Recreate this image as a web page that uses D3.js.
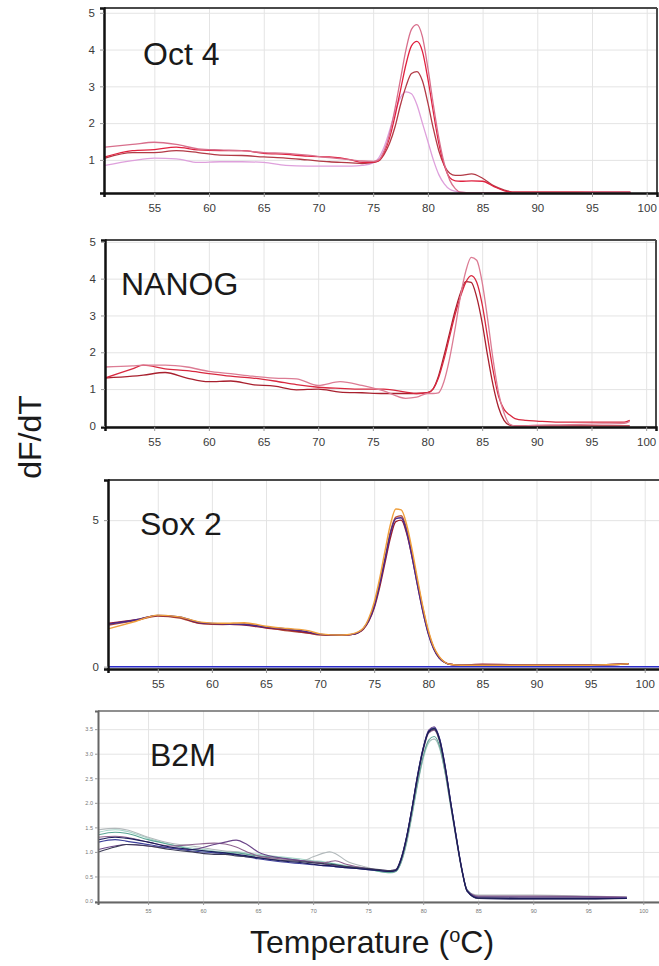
<!DOCTYPE html>
<html>
<head>
<meta charset="utf-8">
<script src="https://cdn.jsdelivr.net/npm/d3@7"></script>
<style>
  body { margin: 0; background: #fff; }
  svg { display: block; font-family: "Liberation Sans", Arial, sans-serif; }
</style>
</head>
<body>
<div id="chart"></div>
<script>
// Tick labels
var xTicks = [55, 60, 65, 70, 75, 80, 85, 90, 95, 100];
var yTicksOct4 = [1, 2, 3, 4, 5];
var yTicksNanog = [0, 1, 2, 3, 4, 5];
var yTicksSox2 = [0, 5];
var yTicksB2m = [0, 0.5, 1, 1.5, 2, 2.5, 3, 3.5];

// Oct 4 melt curves (dF/dT vs temperature)
var oct4Temps = [50.5, 53, 55, 57, 59, 61, 63, 65, 67, 69, 71, 73, 74, 75, 75.5, 76, 76.5, 77, 77.5, 78,
  78.5, 79, 79.5, 80, 80.5, 81, 81.5, 82, 82.5, 83, 84, 85, 86, 87, 88, 90, 93, 95, 98.5];
var oct4A = [1.35, 1.42, 1.48, 1.42, 1.3, 1.27, 1.25, 1.2, 1.18, 1.13, 1.06, 1.0, 0.97, 0.96, 1.0, 1.25, 1.7, 2.4, 3.2, 4.0,
  4.55, 4.68, 4.35, 3.5, 2.5, 1.6, 0.9, 0.45, 0.22, 0.12, 0.1, 0.1, 0.1, 0.1, 0.1, 0.1, 0.1, 0.12, 0.12];
var oct4B = [1.08, 1.25, 1.28, 1.35, 1.27, 1.25, 1.25, 1.18, 1.15, 1.1, 1.08, 1.0, 0.93, 0.94, 0.98, 1.2, 1.6, 2.2, 2.9, 3.6,
  4.1, 4.22, 3.95, 3.2, 2.3, 1.45, 0.85, 0.52, 0.43, 0.42, 0.43, 0.42, 0.28, 0.16, 0.12, 0.12, 0.12, 0.12, 0.12];
var oct4C = [1.05, 1.2, 1.2, 1.25, 1.2, 1.13, 1.12, 1.08, 1.05, 1.0, 0.95, 0.92, 0.9, 0.93, 0.97, 1.15, 1.45, 1.9, 2.5, 3.0,
  3.35, 3.4, 3.15, 2.55, 1.85, 1.25, 0.85, 0.64, 0.58, 0.58, 0.62, 0.5, 0.3, 0.18, 0.12, 0.12, 0.12, 0.12, 0.12];
var oct4D = [0.85, 0.98, 1.05, 1.03, 0.93, 0.95, 0.95, 0.93, 0.85, 0.83, 0.83, 0.83, 0.85, 0.92, 1.05, 1.35, 1.8, 2.3, 2.7, 2.85,
  2.8, 2.5, 2.0, 1.5, 1.0, 0.6, 0.35, 0.2, 0.15, 0.12, 0.1, 0.1, 0.1, 0.1, 0.1, 0.1, 0.1, 0.1, 0.1];

// NANOG
var nanogTemps = [50.5, 53, 54, 56, 58, 60, 62, 64, 66, 68, 70, 72, 74, 76, 78, 79, 80, 80.5, 81, 81.5,
  82, 82.5, 83, 83.5, 84, 84.5, 85, 85.5, 86, 86.5, 87, 87.5, 88, 89, 90, 92, 95, 98, 98.5];
var nanogA = [1.6, 1.63, 1.65, 1.65, 1.6, 1.48, 1.42, 1.35, 1.3, 1.28, 1.1, 1.2, 1.1, 0.95, 0.75, 0.78, 0.88, 0.88, 0.9, 1.2,
  1.8, 2.6, 3.5, 4.2, 4.58, 4.5, 3.9, 2.9, 1.8, 0.9, 0.35, 0.05, 0, 0, 0.02, 0.03, 0.05, 0.07, 0.12];
var nanogB = [1.3, 1.55, 1.65, 1.55, 1.5, 1.42, 1.35, 1.3, 1.22, 1.12, 1.05, 1.02, 1.0, 1.0, 0.92, 0.88, 0.9, 1.0, 1.3, 1.8,
  2.4, 3.0, 3.5, 3.9, 4.08, 3.9, 3.3, 2.4, 1.5, 0.8, 0.45, 0.3, 0.2, 0.15, 0.13, 0.1, 0.1, 0.1, 0.15];
var nanogC = [1.3, 1.35, 1.38, 1.45, 1.3, 1.2, 1.22, 1.12, 1.08, 0.98, 1.0, 0.92, 0.9, 0.88, 0.88, 0.88, 0.9, 1.0, 1.35, 1.9,
  2.5, 3.1, 3.6, 3.92, 3.9, 3.5, 2.8, 1.9, 1.1, 0.5, 0.15, 0.02, 0, 0, 0, 0, 0, 0, 0];

// Sox 2
var sox2Temps = [50.5, 53, 55, 57, 59, 61, 63, 65, 67, 69, 70, 72, 73, 74, 74.5, 75, 75.5, 76, 76.5, 77,
  77.5, 78, 78.5, 79, 79.5, 80, 80.5, 81, 81.5, 82, 83, 85, 90, 95, 98.5];
var sox2Orange = [1.3, 1.55, 1.76, 1.7, 1.52, 1.48, 1.5, 1.38, 1.3, 1.22, 1.12, 1.08, 1.12, 1.32, 1.65, 2.2, 3.0, 3.95, 4.85, 5.38,
  5.35, 4.85, 4.0, 3.0, 2.05, 1.25, 0.68, 0.35, 0.16, 0.08, 0.05, 0.05, 0.05, 0.05, 0.1];
var sox2Brown = [1.42, 1.58, 1.73, 1.66, 1.47, 1.44, 1.46, 1.34, 1.22, 1.14, 1.08, 1.07, 1.1, 1.3, 1.6, 2.1, 2.85, 3.7, 4.6, 5.1,
  5.15, 4.7, 3.85, 2.9, 2.0, 1.2, 0.65, 0.32, 0.16, 0.08, 0.05, 0.06, 0.05, 0.05, 0.1];
var sox2Purple = [1.45, 1.6, 1.75, 1.7, 1.5, 1.46, 1.44, 1.35, 1.28, 1.18, 1.1, 1.08, 1.1, 1.3, 1.58, 2.05, 2.8, 3.65, 4.55, 5.05,
  5.08, 4.6, 3.75, 2.78, 1.88, 1.12, 0.6, 0.3, 0.15, 0.08, 0.05, 0.05, 0.05, 0.05, 0.1];
var sox2Red = [1.48, 1.6, 1.74, 1.68, 1.48, 1.45, 1.42, 1.32, 1.25, 1.15, 1.1, 1.07, 1.1, 1.28, 1.55, 2.0, 2.7, 3.55, 4.4, 4.95,
  5.0, 4.55, 3.75, 2.8, 1.9, 1.15, 0.62, 0.3, 0.15, 0.08, 0.05, 0.08, 0.06, 0.06, 0.1];

// B2M
var b2mTemps = [50.5, 52, 53, 55, 57, 59, 61, 62, 63, 64, 65, 67, 69, 70, 71, 71.5, 72, 73, 75, 76,
  77, 77.5, 78, 78.5, 79, 79.5, 80, 80.5, 81, 81.5, 82, 82.5, 83, 83.5, 84, 85, 90, 95, 98.5];
var b2mLightTeal = [1.4, 1.45, 1.42, 1.28, 1.15, 1.08, 1.02, 1.0, 1.0, 0.98, 0.95, 0.9, 0.85, 0.82, 0.8, 0.78, 0.76, 0.72, 0.66, 0.6,
  0.57, 0.6, 0.78, 1.18, 1.75, 2.38, 2.9, 3.22, 3.3, 3.1, 2.6, 1.92, 1.26, 0.64, 0.22, 0.1, 0.08, 0.08, 0.08];
var b2mGray = [1.45, 1.48, 1.45, 1.3, 1.18, 1.12, 1.05, 1.02, 1.0, 0.95, 0.9, 0.85, 0.82, 0.9, 0.98, 1.0, 0.97, 0.82, 0.68, 0.62,
  0.58, 0.6, 0.8, 1.2, 1.78, 2.4, 2.92, 3.25, 3.3, 3.12, 2.6, 1.92, 1.25, 0.62, 0.2, 0.12, 0.12, 0.1, 0.08];
var b2mTeal = [1.35, 1.4, 1.38, 1.25, 1.15, 1.05, 1.0, 0.98, 0.98, 0.95, 0.92, 0.88, 0.82, 0.8, 0.78, 0.77, 0.75, 0.7, 0.65, 0.6,
  0.58, 0.6, 0.8, 1.22, 1.8, 2.42, 2.95, 3.28, 3.35, 3.15, 2.62, 1.95, 1.28, 0.65, 0.22, 0.08, 0.06, 0.06, 0.06];
var b2mMauve = [1.3, 1.32, 1.3, 1.2, 1.12, 1.15, 1.18, 1.16, 1.1, 1.0, 0.92, 0.86, 0.82, 0.8, 0.78, 0.8, 0.82, 0.75, 0.66, 0.63,
  0.6, 0.62, 0.84, 1.28, 1.88, 2.52, 3.06, 3.42, 3.48, 3.24, 2.68, 1.98, 1.28, 0.64, 0.2, 0.1, 0.1, 0.09, 0.08];
var b2mPurple = [1.05, 1.12, 1.15, 1.12, 1.08, 1.05, 1.15, 1.2, 1.24, 1.15, 1.0, 0.88, 0.82, 0.78, 0.75, 0.74, 0.72, 0.7, 0.65, 0.63,
  0.62, 0.64, 0.88, 1.32, 1.92, 2.58, 3.12, 3.48, 3.55, 3.3, 2.75, 2.02, 1.32, 0.68, 0.22, 0.08, 0.08, 0.08, 0.07];
var b2mBlue = [1.2, 1.25, 1.22, 1.15, 1.08, 1.02, 0.98, 0.96, 0.94, 0.9, 0.86, 0.8, 0.76, 0.74, 0.72, 0.71, 0.7, 0.68, 0.64, 0.62,
  0.6, 0.62, 0.86, 1.32, 1.92, 2.58, 3.12, 3.46, 3.53, 3.3, 2.74, 2.02, 1.32, 0.66, 0.2, 0.05, 0.04, 0.04, 0.06];
var b2mSlate = [1.0, 1.1, 1.15, 1.12, 1.05, 1.0, 0.95, 0.95, 0.92, 0.9, 0.88, 0.83, 0.8, 0.78, 0.76, 0.75, 0.74, 0.7, 0.66, 0.64,
  0.62, 0.63, 0.86, 1.3, 1.9, 2.55, 3.1, 3.44, 3.5, 3.25, 2.7, 1.98, 1.3, 0.66, 0.2, 0.05, 0.04, 0.04, 0.05];
var b2mNavy = [1.25, 1.3, 1.28, 1.2, 1.1, 1.05, 1.0, 0.98, 0.95, 0.92, 0.88, 0.82, 0.78, 0.75, 0.72, 0.72, 0.7, 0.68, 0.64, 0.62,
  0.6, 0.62, 0.85, 1.3, 1.9, 2.55, 3.1, 3.45, 3.52, 3.28, 2.72, 2.0, 1.3, 0.65, 0.2, 0.06, 0.05, 0.05, 0.05];

var svgWidth = 659;
var svgHeight = 966;

var svg = d3.select("#chart")
  .append("svg")
  .attr("width", svgWidth)
  .attr("height", svgHeight);

// panel layout
var panels = [
  { name: "Oct 4", nameX: 143, nameY: 65, left: 104, right: 657, top: 8, bottom: 193,
    xDomain: [50.4, 100.94], yDomain: [0.1, 5.13], yTicks: yTicksOct4, yFormat: d3.format("d"),
    temps: oct4Temps, series: [oct4D, oct4C, oct4B, oct4A],
    colors: ["#dea0dc", "#b23a46", "#e0213f", "#d86f8c"], width: 1.3,
    rightBorder: true, small: false },
  { name: "NANOG", nameX: 121, nameY: 295, left: 105, right: 656, top: 240, bottom: 427,
    xDomain: [50.5, 100.9], yDomain: [-0.03, 5.05], yTicks: yTicksNanog, yFormat: d3.format("d"),
    temps: nanogTemps, series: [nanogC, nanogB, nanogA],
    colors: ["#a8202e", "#d8283f", "#dc7c94"], width: 1.3,
    rightBorder: true, small: false },
  { name: "Sox 2", nameX: 140, nameY: 535, left: 108, right: 662, top: 480, bottom: 669,
    xDomain: [50.4, 101.6], yDomain: [-0.08, 6.37], yTicks: yTicksSox2, yFormat: d3.format("d"),
    temps: sox2Temps, series: [sox2Brown, sox2Red, sox2Purple, sox2Orange],
    colors: ["#b5523b", "#9c1f2e", "#4b2a8c", "#f0a03c"], width: 1.4,
    rightBorder: false, small: false, baseline: true },
  { name: "B2M", nameX: 150, nameY: 766, left: 98, right: 662, top: 711, bottom: 902,
    xDomain: [50.45, 101.7], yDomain: [-0.02, 3.87], yTicks: yTicksB2m, yFormat: d3.format(".1f"),
    temps: b2mTemps, series: [b2mLightTeal, b2mGray, b2mTeal, b2mMauve, b2mPurple, b2mBlue, b2mSlate, b2mNavy],
    colors: ["#a6d4c8", "#b2b9bb", "#5aa594", "#8f6490", "#6a4488", "#3d3f9a", "#3a3a55", "#1b1b5a"], width: 1.1,
    rightBorder: false, small: true }
];

panels.forEach(function(p, i) {
  var x = d3.scaleLinear().domain(p.xDomain).range([p.left, p.right]);
  var y = d3.scaleLinear().domain(p.yDomain).range([p.bottom, p.top]);
  var g = svg.append("g");
  var h = p.bottom - p.top;
  var w = p.right - p.left;

  g.append("clipPath").attr("id", "clip" + i)
    .append("rect").attr("x", p.left).attr("y", p.top).attr("width", w).attr("height", h);

  // grid
  g.append("g")
    .attr("transform", `translate(0, ${p.bottom})`)
    .call(d3.axisBottom(x).tickValues(xTicks).tickSize(-h).tickFormat(""))
    .call(s => s.select(".domain").remove())
    .call(s => s.selectAll("line").attr("stroke", "#e4e4e4").attr("stroke-width", 1));
  g.append("g")
    .attr("transform", `translate(${p.left}, 0)`)
    .call(d3.axisLeft(y).tickValues(p.yTicks).tickSize(-w).tickFormat(""))
    .call(s => s.select(".domain").remove())
    .call(s => s.selectAll("line").attr("stroke", "#e4e4e4").attr("stroke-width", 1));

  // curves
  var line = d3.line()
    .x((d, j) => x(p.temps[j]))
    .y(d => y(d))
    .curve(d3.curveMonotoneX);

  var plot = g.append("g").attr("clip-path", `url(#clip${i})`);

  if (p.baseline) {
    plot.append("line")
      .attr("x1", p.left).attr("x2", p.right)
      .attr("y1", y(0)).attr("y2", y(0))
      .attr("stroke", "#2b2bc8").attr("stroke-width", 1.5);
  }

  plot.selectAll("path.curve")
    .data(p.series)
    .enter()
    .append("path")
    .attr("class", "curve")
    .attr("d", line)
    .attr("fill", "none")
    .attr("stroke", (d, j) => p.colors[j])
    .attr("stroke-width", p.width);

  // frame
  var frameColor = p.small ? "#6a6a6a" : "#4a4a4a";
  g.append("line").attr("x1", p.left).attr("x2", p.right).attr("y1", p.top).attr("y2", p.top)
    .attr("stroke", frameColor).attr("stroke-width", p.small ? 1.5 : 2);
  if (p.rightBorder) {
    g.append("line").attr("x1", p.right).attr("x2", p.right).attr("y1", p.top).attr("y2", p.bottom)
      .attr("stroke", frameColor).attr("stroke-width", 2);
  }

  // axes
  var fontSize = p.small ? 5.5 : 11.5;
  var textColor = p.small ? "#777" : "#3a3a3a";
  var axisColor = p.small ? "#666" : "#111";

  var bottomAxis = d3.axisBottom(x).tickValues(xTicks).tickSize(p.small ? 3 : 4).tickPadding(p.small ? 4 : 7).tickFormat(d3.format("d"));
  var leftAxis = d3.axisLeft(y).tickValues(p.yTicks).tickSize(p.small ? 3 : 4).tickPadding(p.small ? 2 : 5).tickFormat(p.yFormat);

  var bx = g.append("g")
    .attr("transform", `translate(0, ${p.bottom})`)
    .call(bottomAxis);
  var ly = g.append("g")
    .attr("transform", `translate(${p.left}, 0)`)
    .call(leftAxis);

  [bx, ly].forEach(function(a) {
    a.select(".domain").attr("stroke", axisColor).attr("stroke-width", p.small ? 2 : 2.5);
    a.selectAll(".tick line").attr("stroke", "#999");
    a.selectAll("text")
      .attr("fill", textColor)
      .style("font-size", fontSize + "px")
      .style("font-family", "'Liberation Sans', Arial, sans-serif");
  });

  // panel name
  g.append("text")
    .attr("x", p.nameX)
    .attr("y", p.nameY)
    .style("font-size", "32px")
    .attr("fill", "#1a1a1a")
    .text(p.name);
});

// axis titles
svg.append("text")
  .attr("transform", "translate(41, 437) rotate(-90)")
  .attr("text-anchor", "middle")
  .style("font-size", "32px")
  .attr("fill", "#1a1a1a")
  .text("dF/dT");

var xt = svg.append("text")
  .attr("x", 372)
  .attr("y", 953)
  .attr("text-anchor", "middle")
  .style("font-size", "32px")
  .attr("fill", "#1a1a1a");
xt.append("tspan").text("Temperature (");
xt.append("tspan").attr("dy", -11).style("font-size", "20px").text("o");
xt.append("tspan").attr("dy", 11).text("C)");
</script>
</body>
</html>
